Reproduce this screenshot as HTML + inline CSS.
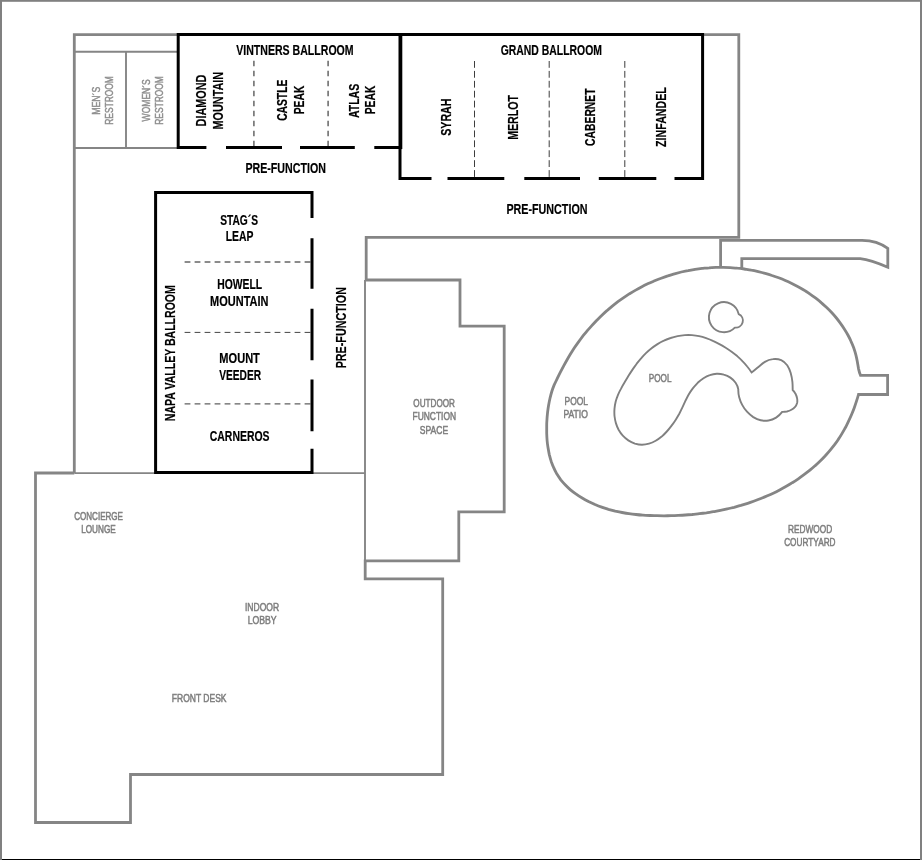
<!DOCTYPE html>
<html lang="en"><head><meta charset="utf-8"><title>Meeting Space Floor Plan</title>
<style>
html,body{margin:0;padding:0;background:#fff;}
body{width:922px;height:860px;overflow:hidden;position:relative;}
svg{display:block;position:absolute;left:0;top:0;will-change:transform;}
text{font-family:"Liberation Sans",Arial,sans-serif;}
text.b{font-weight:bold;fill:#000;} text.g{fill:#7e7e7e;} text.r{fill:#8e8e8e;}
text.g{stroke:#7e7e7e;stroke-width:0.55px;}
text.b{stroke:#000;stroke-width:0.2px;}
text.r{stroke:#8e8e8e;stroke-width:0.5px;}
</style></head><body>
<svg width="922" height="860" viewBox="0 0 922 860">
<rect x="0" y="0" width="922" height="860" fill="#fff"/>
<!-- frame -->
<rect x="0" y="859" width="922" height="1" fill="#000"/>
<g id="frame" fill="#808080">
<rect x="0" y="0" width="922" height="1.8"/>
<rect x="0" y="0" width="2" height="860"/>
<rect x="920" y="0" width="2" height="860"/>
</g>
<!-- thick grey walls -->
<g id="walls" fill="none" stroke="#858585" stroke-width="2.8" stroke-linejoin="miter">
<path d="M178,34.6 H74.3 V473"/>
<path d="M702,34.6 H738.8 V237.3 H366.2 V280 H460 V326.2 H504.2 V511.8 H458.8 V560.8 H365.2 V578.8 H442.7 V774.5 H130.5 V822.5 H35.5 V473 H74.3"/>
<path d="M720.6,266 V240.3 H862 C872,240.3 881.5,243.6 887.8,248.4 V267.2 C879,263.4 869.5,259.7 860.2,258.6 H741.8 V268.6"/>
<path d="M858.5,394.5 C857.9,396.7 857.2,399.0 856.5,401.2 C855.8,403.4 855.0,405.7 854.2,407.9 C853.4,410.1 852.5,412.3 851.6,414.5 C850.7,416.6 849.7,418.8 848.7,420.9 C847.7,423.1 846.7,425.2 845.6,427.3 C844.4,429.4 843.3,431.4 842.1,433.4 C840.9,435.5 839.6,437.5 838.3,439.4 C837.0,441.4 835.6,443.3 834.2,445.2 C832.8,447.0 831.3,448.9 829.8,450.7 C828.3,452.5 826.7,454.2 825.1,456.0 C823.5,457.7 821.9,459.4 820.2,461.0 C818.5,462.6 816.8,464.3 815.0,465.8 C813.2,467.4 811.4,468.9 809.6,470.4 C807.8,471.9 805.9,473.3 804.0,474.7 C802.1,476.1 800.2,477.5 798.3,478.8 C796.3,480.2 794.3,481.5 792.3,482.7 C790.3,484.0 788.3,485.2 786.3,486.3 C784.2,487.5 782.2,488.6 780.1,489.7 C778.0,490.8 775.9,491.9 773.8,492.9 C771.7,493.9 769.5,494.9 767.4,495.8 C765.2,496.8 763.1,497.7 760.9,498.5 C758.7,499.4 756.5,500.2 754.3,501.0 C752.1,501.8 749.9,502.6 747.7,503.3 C745.4,504.0 743.2,504.7 740.9,505.4 C738.7,506.0 736.4,506.7 734.1,507.3 C731.9,507.8 729.6,508.4 727.3,508.9 C725.0,509.4 722.7,509.9 720.4,510.4 C718.1,510.9 715.7,511.3 713.4,511.7 C711.1,512.1 708.8,512.4 706.4,512.8 C704.1,513.1 701.7,513.4 699.4,513.7 C697.0,514.0 694.7,514.2 692.3,514.5 C690.0,514.7 687.6,514.9 685.3,515.0 C682.9,515.2 680.6,515.3 678.2,515.4 C675.8,515.5 673.5,515.6 671.1,515.7 C668.8,515.7 666.4,515.8 664.0,515.8 C661.7,515.8 659.3,515.8 657.0,515.7 C654.6,515.7 652.3,515.6 649.9,515.5 C647.6,515.4 645.3,515.3 642.9,515.1 C640.6,515.0 638.3,514.8 635.9,514.5 C633.6,514.3 631.3,514.0 629.0,513.6 C626.7,513.3 624.4,512.9 622.1,512.5 C619.8,512.1 617.5,511.6 615.2,511.1 C613.0,510.5 610.7,509.9 608.4,509.3 C606.2,508.6 603.9,507.9 601.7,507.1 C599.5,506.3 597.2,505.4 595.0,504.5 C592.8,503.5 590.6,502.5 588.5,501.5 C586.4,500.4 584.2,499.2 582.2,498.0 C580.1,496.8 578.1,495.5 576.2,494.1 C574.2,492.7 572.3,491.3 570.5,489.8 C568.7,488.3 567.0,486.7 565.4,485.0 C563.8,483.3 562.3,481.6 560.8,479.8 C559.4,477.9 558.1,476.0 556.9,474.1 C555.8,472.1 554.7,470.0 553.8,467.9 C552.8,465.8 552.0,463.6 551.2,461.4 C550.5,459.2 549.9,456.9 549.3,454.6 C548.8,452.3 548.4,450.0 548.0,447.6 C547.6,445.2 547.3,442.8 547.1,440.5 C546.9,438.1 546.8,435.7 546.7,433.3 C546.7,430.9 546.7,428.5 546.7,426.1 C546.7,423.7 546.8,421.4 547.0,419.0 C547.1,416.7 547.4,414.4 547.6,412.1 C547.9,409.8 548.2,407.5 548.6,405.2 C549.0,402.9 549.5,400.6 550.0,398.3 C550.5,396.1 551.1,393.8 551.8,391.5 C552.5,389.3 553.3,387.1 554.2,384.9 C555.2,382.8 556.2,380.7 557.2,378.6 C558.3,376.4 559.3,374.3 560.4,372.2 C561.5,370.1 562.6,368.0 563.7,365.9 C564.8,363.8 565.9,361.8 567.1,359.7 C568.2,357.7 569.4,355.7 570.6,353.7 C571.9,351.7 573.1,349.8 574.4,347.8 C575.7,345.9 577.0,344.0 578.4,342.1 C579.8,340.2 581.2,338.3 582.6,336.4 C584.1,334.6 585.6,332.7 587.1,330.9 C588.6,329.1 590.2,327.4 591.8,325.6 C593.3,323.9 595.0,322.1 596.6,320.4 C598.3,318.7 600.0,317.1 601.7,315.4 C603.4,313.8 605.1,312.2 606.9,310.7 C608.7,309.1 610.5,307.6 612.3,306.1 C614.2,304.6 616.1,303.1 617.9,301.7 C619.8,300.3 621.8,298.9 623.7,297.6 C625.7,296.3 627.6,295.0 629.6,293.7 C631.6,292.5 633.6,291.3 635.7,290.1 C637.7,288.9 639.8,287.8 641.9,286.7 C644.0,285.6 646.1,284.6 648.2,283.6 C650.3,282.6 652.5,281.7 654.6,280.8 C656.8,279.9 659.0,279.0 661.2,278.2 C663.4,277.4 665.6,276.6 667.8,275.9 C670.1,275.1 672.3,274.5 674.5,273.8 C676.8,273.2 679.1,272.6 681.3,272.0 C683.6,271.5 685.9,271.0 688.2,270.6 C690.5,270.1 692.8,269.7 695.1,269.3 C697.5,269.0 699.8,268.7 702.1,268.4 C704.4,268.2 706.8,267.9 709.1,267.8 C711.4,267.6 713.8,267.5 716.1,267.4 C718.5,267.4 720.8,267.4 723.2,267.4 C725.5,267.4 727.9,267.5 730.2,267.6 C732.6,267.8 734.9,267.9 737.3,268.2 C739.6,268.4 742.0,268.7 744.3,269.0 C746.7,269.4 749.0,269.7 751.3,270.2 C753.7,270.6 756.0,271.1 758.3,271.6 C760.6,272.2 762.9,272.8 765.2,273.4 C767.5,274.0 769.8,274.7 772.0,275.5 C774.3,276.2 776.5,277.0 778.7,277.8 C781.0,278.7 783.2,279.6 785.3,280.5 C787.5,281.4 789.7,282.4 791.8,283.4 C793.9,284.5 796.0,285.6 798.1,286.7 C800.1,287.8 802.2,289.0 804.2,290.2 C806.2,291.5 808.2,292.7 810.1,294.1 C812.0,295.4 813.9,296.8 815.8,298.2 C817.6,299.6 819.5,301.1 821.2,302.6 C823.0,304.1 824.7,305.7 826.4,307.3 C828.1,308.9 829.8,310.6 831.4,312.3 C833.0,314.0 834.5,315.7 836.0,317.5 C837.5,319.3 838.9,321.2 840.3,323.1 C841.7,325.0 843.0,326.9 844.3,328.9 C845.6,330.9 846.8,332.9 847.9,335.0 C849.0,337.0 850.1,339.1 851.0,341.3 C852.0,343.4 852.9,345.6 853.7,347.8 C854.5,350.1 855.2,352.3 855.8,354.6 C856.4,356.9 856.9,359.2 857.3,361.5 C857.7,363.9 858.1,366.2 858.5,368.6 C859.0,370.9 859.6,373.1 860.5,375.3 H887.6 V394.5 Z"/>
</g>
<!-- thin grey lines -->
<g id="thin" fill="none" stroke="#858585" stroke-width="1.9">
<path d="M74.3,51.8 H178"/>
<path d="M126,51.8 V148"/>
<path d="M74.3,148 H178"/>
<path d="M74.3,473.1 H365"/>
<path d="M365,280 V561"/>
</g>
<!-- pool shapes -->
<g id="pool" fill="none" stroke="#808080" stroke-width="1.9">
<path d="M751.6,372.5 C753.8,371.0 755.9,369.1 758.1,367.2 C760.3,365.4 762.5,363.4 764.9,361.9 C767.3,360.4 770.0,359.4 772.9,359.1 C775.8,358.7 778.8,359.1 781.2,360.1 C783.7,361.2 785.6,363.0 787.2,365.2 C788.7,367.5 789.9,370.2 790.7,373.0 C791.5,375.8 792.1,378.9 792.4,381.8 C792.7,384.7 792.7,387.5 792.7,390.0 C793.8,391.1 794.8,392.4 795.5,393.8 C796.3,395.3 796.8,396.8 797.1,398.4 C797.4,399.9 797.4,401.5 797.1,403.0 C796.7,404.4 796.1,405.8 795.1,406.9 C794.1,408.0 792.8,409.0 791.4,409.8 C790.0,410.6 788.5,411.1 786.9,411.5 C785.3,411.8 783.7,412.0 782.2,411.9 C780.5,414.2 778.4,416.1 776.1,417.6 C773.7,419.1 771.2,420.1 768.5,420.5 C765.9,421.0 763.3,420.9 760.7,420.3 C758.1,419.7 755.6,418.5 753.3,417.1 C751.0,415.6 748.9,413.8 747.0,411.7 C745.2,409.7 743.5,407.4 742.2,404.9 C740.9,402.5 739.9,399.9 739.2,397.2 C738.5,394.6 738.2,391.9 738.3,389.3 C737.9,386.9 737.0,384.7 735.6,382.7 C734.2,380.7 732.4,379.0 730.4,377.6 C728.4,376.2 726.1,375.2 723.8,374.6 C721.5,373.9 719.0,373.6 716.7,373.7 C714.3,373.8 712.0,374.3 709.8,375.1 C707.6,375.8 705.5,376.9 703.5,378.2 C701.4,379.6 699.5,381.1 697.7,382.8 C696.0,384.6 694.3,386.4 692.8,388.4 C691.3,390.4 689.9,392.4 688.7,394.5 C687.5,396.6 686.5,398.7 685.4,400.8 C684.4,403.0 683.4,405.2 682.4,407.3 C681.4,409.4 680.4,411.6 679.3,413.7 C678.1,415.8 676.9,417.9 675.6,419.9 C674.3,421.9 672.9,423.9 671.4,425.9 C670.0,427.8 668.5,429.7 666.8,431.5 C665.2,433.3 663.5,435.0 661.7,436.6 C659.8,438.2 657.8,439.6 655.7,440.8 C653.5,442.1 651.3,443.1 649.0,443.7 C646.7,444.4 644.4,444.8 642.0,444.8 C639.6,444.8 637.2,444.3 634.9,443.6 C632.6,442.8 630.3,441.7 628.3,440.4 C626.2,439.0 624.4,437.4 622.8,435.7 C621.1,433.9 619.8,431.9 618.6,429.8 C617.5,427.7 616.6,425.4 615.9,423.1 C615.2,420.8 614.8,418.4 614.5,416.0 C614.3,413.5 614.3,411.1 614.5,408.7 C614.7,406.2 615.1,403.9 615.7,401.5 C616.3,399.2 617.1,397.0 618.0,394.8 C619.0,392.6 620.0,390.5 621.2,388.4 C622.3,386.2 623.5,384.1 624.8,382.0 C626.0,380.0 627.2,377.9 628.5,375.8 C629.8,373.7 631.1,371.7 632.5,369.6 C633.9,367.6 635.3,365.7 636.7,363.7 C638.2,361.8 639.7,359.9 641.3,358.1 C642.8,356.3 644.5,354.6 646.2,352.9 C647.9,351.2 649.7,349.7 651.6,348.2 C653.5,346.7 655.5,345.4 657.5,344.1 C659.6,342.8 661.7,341.7 663.9,340.7 C666.1,339.6 668.3,338.7 670.6,338.0 C672.9,337.2 675.3,336.6 677.6,336.1 C680.0,335.6 682.4,335.3 684.8,335.1 C687.2,335.0 689.6,335.0 692.0,335.1 C694.4,335.3 696.8,335.6 699.1,336.1 C701.5,336.6 703.8,337.3 706.1,338.1 C708.4,338.9 710.7,339.8 712.9,340.9 C715.1,341.9 717.3,343.0 719.4,344.1 C721.6,345.2 723.6,346.4 725.7,347.7 C727.7,349.0 729.7,350.3 731.6,351.7 C733.5,353.1 735.4,354.6 737.2,356.1 C739.0,357.7 740.8,359.3 742.4,361.1 C744.1,362.8 745.7,364.6 747.2,366.5 C748.8,368.4 750.2,370.4 751.6,372.5 Z"/>
<path d="M738.7,314.1 A15.05,15.05 0 1 0 734.8,327.6 A7.1,7.1 0 0 0 738.7,314.1 Z" stroke-linejoin="round"/>
</g>
<!-- dashed dividers -->
<g id="dashV" fill="none" stroke="#666" stroke-width="1.5" stroke-dasharray="5.5 4.5">
<path d="M253.9,60.8 V147"/>
<path d="M328.1,60.8 V147"/>
</g>
<g id="dashG" fill="none" stroke="#333" stroke-width="0.95" stroke-dasharray="6.8 3.12">
<path d="M474.5,61 V178"/>
<path d="M549.2,61 V178"/>
<path d="M624.8,61 V178"/>
</g>
<g id="dashH" fill="none" stroke-dasharray="5.8 4.2">
<path d="M184.6,262 H312" stroke="#666" stroke-width="1.5"/>
<path d="M184.6,332.4 H312" stroke="#444" stroke-width="1"/>
<path d="M184.6,403.8 H312" stroke="#606060" stroke-width="1.2"/>
</g>
<!-- black ballroom walls -->
<g id="black" fill="none" stroke="#000" stroke-width="3" stroke-linejoin="miter" stroke-linecap="butt">
<path d="M206.4,147.6 H178.2 V34.4 H702.6 V178.6 H674.5"/>
<path d="M400,34.4 V178.6 H431.5"/>
<path d="M400.8,34.4 V149.1"/>
<path d="M226,147.6 H282 M300,147.6 H354.8 M374.3,147.6 H400.2"/>
<path d="M447.5,178.6 H504.3 M524.3,178.6 H580 M598.8,178.6 H656.3"/>
<path d="M312,217.9 V192.4 H155.6 V472.6 H312 V448.8"/>
<path d="M312,238.3 V288.8 M312,308.8 V360.3 M312,379.5 V431.3"/>
</g>

<g id="labels">
<text class="b" x="236.27" y="55" font-size="14.8" textLength="117.35" lengthAdjust="spacingAndGlyphs">VINTNERS BALLROOM</text>
<text class="b" x="500.63" y="55" font-size="14.8" textLength="101.31" lengthAdjust="spacingAndGlyphs">GRAND BALLROOM</text>
<text class="b" x="245.40" y="173" font-size="14.8" textLength="80.51" lengthAdjust="spacingAndGlyphs">PRE-FUNCTION</text>
<text class="b" x="506.41" y="214" font-size="14.8" textLength="81.07" lengthAdjust="spacingAndGlyphs">PRE-FUNCTION</text>
<text class="b" x="220.13" y="225" font-size="14.8" textLength="37.87" lengthAdjust="spacingAndGlyphs">STAG<tspan dy="1.41">´</tspan><tspan dy="-1.41">S</tspan></text>
<text class="b" x="225.77" y="241" font-size="14.8" textLength="27.72" lengthAdjust="spacingAndGlyphs">LEAP</text>
<text class="b" x="217.16" y="289" font-size="14.8" textLength="44.92" lengthAdjust="spacingAndGlyphs">HOWELL</text>
<text class="b" x="210.12" y="306" font-size="14.8" textLength="58.36" lengthAdjust="spacingAndGlyphs">MOUNTAIN</text>
<text class="b" x="219.36" y="363" font-size="14.8" textLength="40.51" lengthAdjust="spacingAndGlyphs">MOUNT</text>
<text class="b" x="219.18" y="380" font-size="14.8" textLength="41.91" lengthAdjust="spacingAndGlyphs">VEEDER</text>
<text class="b" x="209.80" y="441" font-size="14.8" textLength="59.74" lengthAdjust="spacingAndGlyphs">CARNEROS</text>
<text class="g" x="648.79" y="382" font-size="11.7" textLength="22.75" lengthAdjust="spacingAndGlyphs">POOL</text>
<text class="g" x="564.53" y="405" font-size="11.7" textLength="23.48" lengthAdjust="spacingAndGlyphs">POOL</text>
<text class="g" x="563.38" y="418" font-size="11.7" textLength="24.49" lengthAdjust="spacingAndGlyphs">PATIO</text>
<text class="g" x="788.00" y="533" font-size="11.7" textLength="44.28" lengthAdjust="spacingAndGlyphs">REDWOOD</text>
<text class="g" x="784.17" y="546" font-size="11.7" textLength="51.39" lengthAdjust="spacingAndGlyphs">COURTYARD</text>
<text class="g" x="74.17" y="520" font-size="11.7" textLength="48.85" lengthAdjust="spacingAndGlyphs">CONCIERGE</text>
<text class="g" x="81.16" y="533" font-size="11.7" textLength="34.58" lengthAdjust="spacingAndGlyphs">LOUNGE</text>
<text class="g" x="171.80" y="702" font-size="11.7" textLength="54.72" lengthAdjust="spacingAndGlyphs">FRONT DESK</text>
<text class="g" x="413.36" y="407" font-size="11.7" textLength="41.59" lengthAdjust="spacingAndGlyphs">OUTDOOR</text>
<text class="g" x="412.51" y="420" font-size="11.7" textLength="43.58" lengthAdjust="spacingAndGlyphs">FUNCTION</text>
<text class="g" x="419.74" y="434" font-size="11.7" textLength="28.42" lengthAdjust="spacingAndGlyphs">SPACE</text>
<text class="g" x="244.98" y="611" font-size="11.7" textLength="34.17" lengthAdjust="spacingAndGlyphs">INDOOR</text>
<text class="g" x="247.64" y="624" font-size="11.7" textLength="28.97" lengthAdjust="spacingAndGlyphs">LOBBY</text>
<text class="b" transform="translate(175 421.17) rotate(-90)" font-size="14.8" textLength="135.98" lengthAdjust="spacingAndGlyphs">NAPA VALLEY BALLROOM</text>
<text class="b" transform="translate(346 368.31) rotate(-90)" font-size="14.8" textLength="81.22" lengthAdjust="spacingAndGlyphs">PRE-FUNCTION</text>
<text class="b" transform="translate(206 126.42) rotate(-90)" font-size="14.8" textLength="51.72" lengthAdjust="spacingAndGlyphs">DIAMOND</text>
<text class="b" transform="translate(223 129.42) rotate(-90)" font-size="14.8" textLength="57.58" lengthAdjust="spacingAndGlyphs">MOUNTAIN</text>
<text class="b" transform="translate(287 120.82) rotate(-90)" font-size="14.8" textLength="41.08" lengthAdjust="spacingAndGlyphs">CASTLE</text>
<text class="b" transform="translate(304 114.31) rotate(-90)" font-size="14.8" textLength="28.69" lengthAdjust="spacingAndGlyphs">PEAK</text>
<text class="b" transform="translate(359 118.08) rotate(-90)" font-size="14.8" textLength="34.25" lengthAdjust="spacingAndGlyphs">ATLAS</text>
<text class="b" transform="translate(375 114.31) rotate(-90)" font-size="14.8" textLength="28.69" lengthAdjust="spacingAndGlyphs">PEAK</text>
<text class="b" transform="translate(451 135.76) rotate(-90)" font-size="14.8" textLength="37.13" lengthAdjust="spacingAndGlyphs">SYRAH</text>
<text class="b" transform="translate(518 139.80) rotate(-90)" font-size="14.8" textLength="44.79" lengthAdjust="spacingAndGlyphs">MERLOT</text>
<text class="b" transform="translate(595 145.91) rotate(-90)" font-size="14.8" textLength="57.48" lengthAdjust="spacingAndGlyphs">CABERNET</text>
<text class="b" transform="translate(666 146.88) rotate(-90)" font-size="14.8" textLength="59.62" lengthAdjust="spacingAndGlyphs">ZINFANDEL</text>
<text class="r" transform="translate(100 114.80) rotate(-90)" font-size="11.8" textLength="28.11" lengthAdjust="spacingAndGlyphs">MEN<tspan dy="1.12">´</tspan><tspan dy="-1.12">S</tspan></text>
<text class="r" transform="translate(113 124.75) rotate(-90)" font-size="11.8" textLength="48.56" lengthAdjust="spacingAndGlyphs">RESTROOM</text>
<text class="r" transform="translate(150 121.41) rotate(-90)" font-size="11.8" textLength="42.19" lengthAdjust="spacingAndGlyphs">WOMEN<tspan dy="1.12">´</tspan><tspan dy="-1.12">S</tspan></text>
<text class="r" transform="translate(163 124.75) rotate(-90)" font-size="11.8" textLength="48.56" lengthAdjust="spacingAndGlyphs">RESTROOM</text>
</g>
</svg>
</body></html>
